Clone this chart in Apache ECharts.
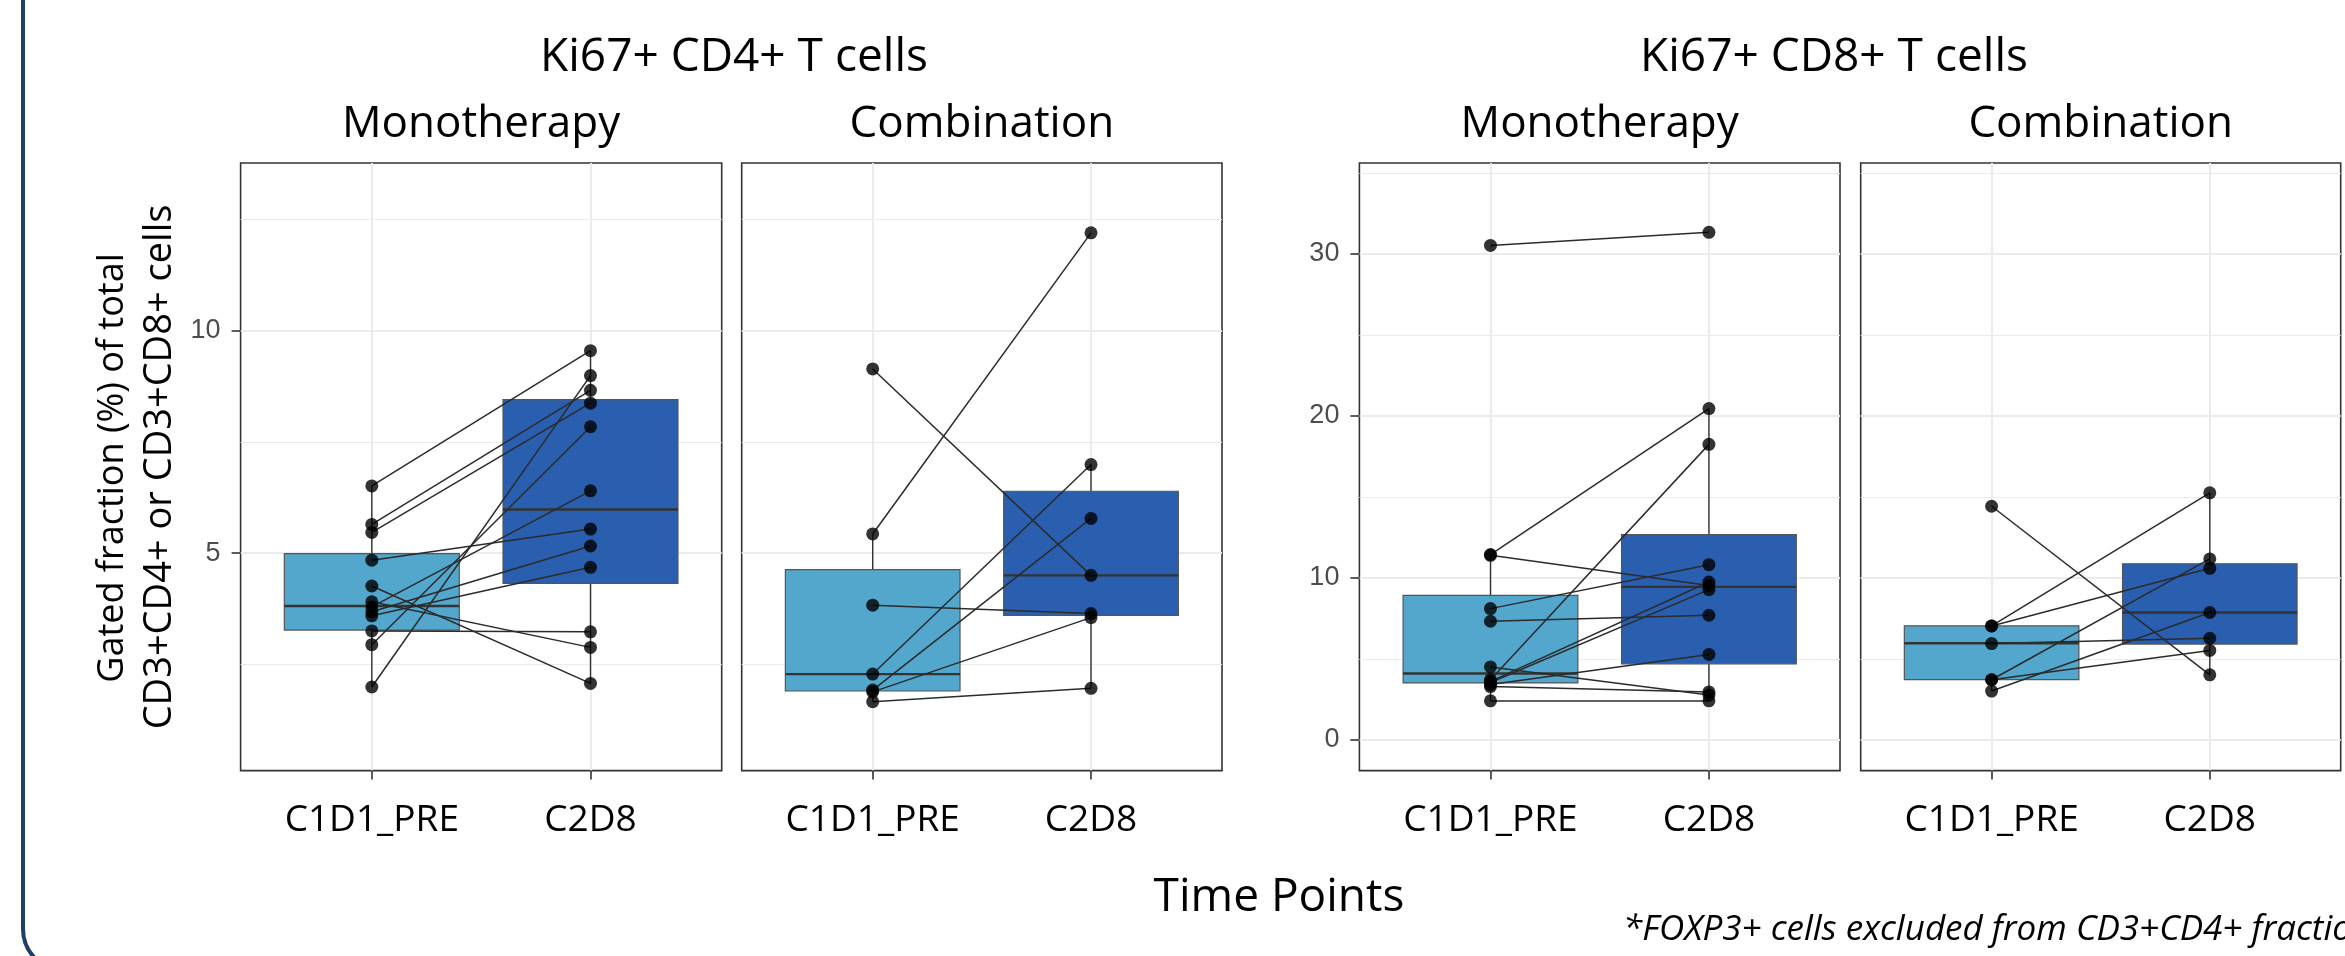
<!DOCTYPE html>
<html><head><meta charset="utf-8">
<script src="https://cdn.jsdelivr.net/npm/echarts@6/dist/echarts.min.js"></script>
<style>html,body{margin:0;padding:0;background:#fff}#c{width:2345px;height:956px}</style>
</head><body><div id="c"></div>
<script>
// ---------- data ----------
const categories = ['C1D1_PRE', 'C2D8'];
const groupTitles = ['Ki67+ CD4+ T cells', 'Ki67+ CD8+ T cells'];
const stripTitles = ['Monotherapy', 'Combination', 'Monotherapy', 'Combination'];

// paired patient values (same index = same patient)
const cd4MonoPre  = [6.51, 5.645, 5.465, 4.84, 4.26, 3.905, 3.25, 1.99, 2.94, 3.79, 3.68, 3.59];
const cd4MonoPost = [9.55, 8.66, 8.37, 5.54, 2.07, 2.88, 3.23, 8.99, 7.84, 6.40, 5.16, 4.68];
const cd4CombPre  = [9.14, 5.43, 3.83, 2.28, 1.92, 1.88, 1.66];
const cd4CombPost = [4.50, 12.20, 3.64, 6.99, 5.78, 3.55, 1.96];
const cd8MonoPre  = [30.53, 11.45, 11.40, 8.11, 7.33, 4.51, 3.72, 3.62, 3.55, 3.42, 3.30, 2.42];
const cd8MonoPost = [31.34, 20.46, 9.54, 10.82, 7.70, 2.77, 18.25, 9.75, 9.28, 5.28, 2.97, 2.42];
const cd8CombPre  = [14.43, 7.04, 7.04, 5.95, 3.72, 3.72, 3.02];
const cd8CombPost = [4.02, 15.26, 10.60, 6.28, 11.18, 5.53, 7.87];

// box summaries: [lower whisker, Q1, median, Q3, upper whisker]
const cd4MonoBoxPre  = [1.99, 3.27, 3.81, 4.99, 6.51];
const cd4MonoBoxPost = [2.07, 4.32, 5.98, 8.45, 9.55];
const cd4CombBoxPre  = [1.66, 1.90, 2.28, 4.63, 5.43];
const cd4CombBoxPost = [1.96, 3.60, 4.50, 6.39, 6.99];
const cd8MonoBoxPre  = [2.42, 3.52, 4.10, 8.93, 11.45];
const cd8MonoBoxPost = [2.42, 4.70, 9.45, 12.68, 20.46];
const cd8CombBoxPre  = [3.02, 3.73, 5.97, 7.05, 7.05];
const cd8CombBoxPost = [4.02, 5.92, 7.87, 10.88, 15.26];

// axes
const cd4Ticks = [5, 10];
const cd4Minor = [2.5, 7.5, 12.5];
const cd4Range = [0.11, 13.77];
const cd8Ticks = [0, 10, 20, 30];
const cd8Minor = [5, 15, 25, 35];
const cd8Range = [-1.89, 35.62];

const yTitle1 = 'Gated fraction (%) of total';
const yTitle2 = 'CD3+CD4+ or CD3+CD8+ cells';
const xTitle = 'Time Points';
const footnote = '*FOXP3+ cells excluded from CD3+CD4+ fraction';

// ---------- layout / style ----------
const boxColors = ['#53a6cc', '#2a5fb0'];
const panelTop = 163, panelHeight = 607.6;
const panels = [
  {left: 240.6, width: 481.1, pre: cd4MonoPre, post: cd4MonoPost, boxPre: cd4MonoBoxPre, boxPost: cd4MonoBoxPost, range: cd4Range, ticks: cd4Ticks, minor: cd4Minor, labels: true},
  {left: 741.7, width: 480.3, pre: cd4CombPre, post: cd4CombPost, boxPre: cd4CombBoxPre, boxPost: cd4CombBoxPost, range: cd4Range, ticks: cd4Ticks, minor: cd4Minor, labels: false},
  {left: 1359.4, width: 480.6, pre: cd8MonoPre, post: cd8MonoPost, boxPre: cd8MonoBoxPre, boxPost: cd8MonoBoxPost, range: cd8Range, ticks: cd8Ticks, minor: cd8Minor, labels: true},
  {left: 1860.7, width: 480.0, pre: cd8CombPre, post: cd8CombPost, boxPre: cd8CombBoxPre, boxPost: cd8CombBoxPost, range: cd8Range, ticks: cd8Ticks, minor: cd8Minor, labels: false}
];

const grid = [], xAxis = [], yAxis = [], series = [], graphic = [];

function renderBox(params, api) {
  const x = api.value(0);
  const pLo = api.coord([x, api.value(1)]);
  const pQ1 = api.coord([x, api.value(2)]);
  const pMd = api.coord([x, api.value(3)]);
  const pQ3 = api.coord([x, api.value(4)]);
  const pHi = api.coord([x, api.value(5)]);
  const ci = api.value(6);
  const half = api.size([0.8, 0])[0] / 2;
  const cx = pMd[0];
  return {type: 'group', children: [
    {type: 'line', shape: {x1: cx, y1: pHi[1], x2: cx, y2: pQ3[1]}, style: {stroke: '#333', lineWidth: 1.4}},
    {type: 'line', shape: {x1: cx, y1: pQ1[1], x2: cx, y2: pLo[1]}, style: {stroke: '#333', lineWidth: 1.4}},
    {type: 'rect', shape: {x: cx - half, y: pQ3[1], width: 2 * half, height: pQ1[1] - pQ3[1]}, style: {fill: boxColors[ci], stroke: '#555', lineWidth: 1.2}},
    {type: 'line', shape: {x1: cx - half, y1: pMd[1], x2: cx + half, y2: pMd[1]}, style: {stroke: '#333', lineWidth: 2.4}}
  ]};
}

panels.forEach((p, i) => {
  grid.push({left: p.left, top: panelTop, width: p.width, height: panelHeight, show: true,
    borderColor: '#333', borderWidth: 1.6, backgroundColor: '#fff'});
  xAxis.push({gridIndex: i, type: 'value', min: -0.6, max: 1.6, position: 'bottom',
    axisLine: {show: false, onZero: false},
    axisTick: {show: true, customValues: [0, 1], length: 9, lineStyle: {color: '#333', width: 1.6}},
    axisLabel: {customValues: [0, 1], formatter: v => categories[Math.round(v)], fontFamily: 'Open Sans', fontSize: 37, color: '#000', margin: 31},
    splitLine: {show: true, lineStyle: {color: '#ebebeb', width: 2}}
  });
  yAxis.push({gridIndex: i, type: 'value', min: p.range[0], max: p.range[1], position: 'left',
    axisLine: {show: false, onZero: false},
    axisTick: {show: p.labels, customValues: p.ticks, length: 9, lineStyle: {color: '#333', width: 1.6}},
    axisLabel: {show: p.labels, customValues: p.ticks, fontFamily: 'Liberation Sans', fontSize: 27, color: '#4d4d4d', margin: 20},
    splitLine: {show: true, lineStyle: {color: '#ebebeb', width: 2}}
  });
  yAxis.push({gridIndex: i, type: 'value', min: p.range[0], max: p.range[1], position: 'right',
    axisLine: {show: false, onZero: false},
    axisTick: {show: false, customValues: p.minor},
    axisLabel: {show: false},
    splitLine: {show: true, lineStyle: {color: '#ebebeb', width: 1}}
  });
  series.push({type: 'custom', xAxisIndex: i, yAxisIndex: 2 * i, silent: true, z: 2,
    renderItem: renderBox, encode: {x: 0, y: [1, 2, 3, 4, 5]},
    data: [[0].concat(p.boxPre, [0]), [1].concat(p.boxPost, [1])]
  });
  series.push({type: 'lines', coordinateSystem: 'cartesian2d', xAxisIndex: i, yAxisIndex: 2 * i, silent: true, z: 3,
    lineStyle: {color: '#2b2b2b', width: 1.5, opacity: 1},
    data: p.pre.map((v, k) => ({coords: [[0, v], [1, p.post[k]]]}))
  });
  series.push({type: 'scatter', xAxisIndex: i, yAxisIndex: 2 * i, silent: true, z: 4,
    symbol: 'circle', symbolSize: 13, itemStyle: {color: '#000'},
    data: p.pre.map(v => [0, v]).concat(p.post.map(v => [1, v]))
  });
  graphic.push({type: 'text', x: p.left + p.width / 2, y: 124,
    style: {text: stripTitles[i], fill: '#000', font: '44px "Open Sans"', textAlign: 'center', textVerticalAlign: 'middle'}});
});

graphic.push({type: 'text', x: 734, y: 58,
  style: {text: groupTitles[0], fill: '#000', font: '46px "Open Sans"', textAlign: 'center', textVerticalAlign: 'middle'}});
graphic.push({type: 'text', x: 1834, y: 58,
  style: {text: groupTitles[1], fill: '#000', font: '46px "Open Sans"', textAlign: 'center', textVerticalAlign: 'middle'}});
graphic.push({type: 'text', x: 113, y: 468, rotation: Math.PI / 2,
  style: {text: yTitle1, fill: '#000', font: '36px "Open Sans"', textAlign: 'center', textVerticalAlign: 'middle'}});
graphic.push({type: 'text', x: 160, y: 467, rotation: Math.PI / 2,
  style: {text: yTitle2, fill: '#000', font: '38px "Open Sans"', textAlign: 'center', textVerticalAlign: 'middle'}});
graphic.push({type: 'text', x: 1279, y: 898,
  style: {text: xTitle, fill: '#000', font: '46px "Open Sans"', textAlign: 'center', textVerticalAlign: 'middle'}});
graphic.push({type: 'text', x: 1623, y: 930,
  style: {text: footnote, fill: '#000', font: 'italic 35px "Open Sans"', textAlign: 'left', textVerticalAlign: 'middle'}});
graphic.push({type: 'rect', shape: {x: 23, y: -100, width: 3000, height: 1070.5, r: 41.5},
  style: {fill: 'none', stroke: '#1e3f66', lineWidth: 4}, z: 10});

const chart = echarts.init(document.getElementById('c'), null, {renderer: 'canvas'});
chart.setOption({animation: false, backgroundColor: '#fff', grid, xAxis, yAxis, series, graphic});
</script>
</body></html>
